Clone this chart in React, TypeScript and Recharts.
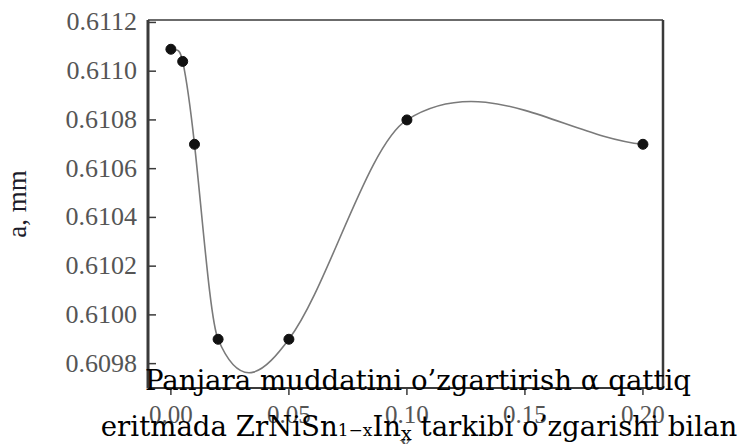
import { Line, LineChart, XAxis, YAxis } from "recharts"

const xValues = [0, 0.005, 0.01, 0.02, 0.05, 0.1, 0.2]
const latticeA = [0.61109, 0.61104, 0.6107, 0.6099, 0.6099, 0.6108, 0.6107]
const xTicks = [0, 0.05, 0.1, 0.15, 0.2]
const yTicks = [0.6098, 0.61, 0.6102, 0.6104, 0.6106, 0.6108, 0.611, 0.6112]
const captionLine1 = "Panjara muddatini o’zgartirish α qattiq"

const data = xValues.map((x, i) => ({ x, a: latticeA[i] }))

const axisColor = "#3a3a3a"
const tickColor = "#555"
const tickFont = "'Liberation Serif', 'Times New Roman', serif"
const captionFont = "'DejaVu Serif', serif"

// cubic Hermite spline in x, finite-difference slopes with a little extra tension
const smoothX = (context: any) => {
  let pts: [number, number][] = []
  const k = 1.15
  return {
    areaStart() {},
    areaEnd() {},
    lineStart() {
      pts = []
    },
    point(x: number, y: number) {
      pts.push([+x, +y])
    },
    lineEnd() {
      const n = pts.length
      if (!n) return
      context.moveTo(pts[0][0], pts[0][1])
      if (n === 1) return
      const m = pts.map((p, i) => {
        if (i === 0) return (pts[1][1] - p[1]) / (pts[1][0] - p[0])
        if (i === n - 1) return (p[1] - pts[i - 1][1]) / (p[0] - pts[i - 1][0])
        return (k * (pts[i + 1][1] - pts[i - 1][1])) / (pts[i + 1][0] - pts[i - 1][0])
      })
      for (let i = 0; i < n - 1; i++) {
        const [x0, y0] = pts[i]
        const [x1, y1] = pts[i + 1]
        const h = (x1 - x0) / 3
        context.bezierCurveTo(x0 + h, y0 + m[i] * h, x1 - h, y1 - m[i + 1] * h, x1, y1)
      }
    },
  }
}

const YTick = (props: any) => {
  const { x, y, payload } = props
  return (
    <g>
      <line x1={x + 8} x2={x + 16} y1={y} y2={y} stroke={axisColor} strokeWidth={1.5} />
      <text x={x - 3} y={y} dy={8} textAnchor="end" fill={tickColor} fontSize={26} fontFamily={tickFont}>
        {payload.value.toFixed(4)}
      </text>
    </g>
  )
}

const XTick = (props: any) => {
  const { x, y, payload } = props
  return (
    <g>
      <line x1={x} x2={x} y1={y - 1} y2={y - 9} stroke={axisColor} strokeWidth={1.5} />
      <text x={x} y={y} dy={27} textAnchor="middle" fill={tickColor} fontSize={25} fontFamily={tickFont}>
        {payload.value.toFixed(2)}
      </text>
    </g>
  )
}

export default function App() {
  return (
    <div style={{ position: "absolute", left: 0, top: 0, width: 739, height: 444, background: "#fff", overflow: "hidden" }}>
      <LineChart width={739} height={444} data={data} margin={{ top: 19, right: 75, bottom: 0, left: 48 }}>
        <XAxis
          dataKey="x"
          type="number"
          domain={[-0.0097, 0.2085]}
          ticks={xTicks}
          tick={<XTick />}
          tickLine={false}
          height={56}
          stroke={axisColor}
          strokeWidth={2}
          label={{ value: "x", position: "insideBottom", offset: -8, fill: tickColor, fontSize: 25, fontFamily: tickFont }}
        />
        <XAxis xAxisId="top" orientation="top" dataKey="x" type="number" domain={[-0.0097, 0.2085]} tick={false} tickLine={false} height={1} stroke={axisColor} strokeWidth={1.5} />
        <YAxis
          type="number"
          domain={[0.6097, 0.61121]}
          ticks={yTicks}
          tick={<YTick />}
          tickLine={false}
          width={100}
          stroke={axisColor}
          strokeWidth={3}
          allowDataOverflow
          label={{ value: "a, mm", angle: -90, position: "insideLeft", offset: -32, fill: "#1c1c2a", fontSize: 27, fontFamily: tickFont, style: { textAnchor: "middle" } }}
        />
        <YAxis yAxisId="right" orientation="right" type="number" domain={[0.6097, 0.61121]} tick={false} tickLine={false} width={1} stroke={axisColor} strokeWidth={2.5} />
        <Line
          type={smoothX as any}
          dataKey="a"
          stroke="#7a7a7a"
          strokeWidth={1.6}
          dot={{ r: 5, fill: "#111", stroke: "#111", strokeWidth: 1 }}
          isAnimationActive={false}
        />
      </LineChart>
      <svg width={739} height={444} style={{ position: "absolute", left: 0, top: 0, pointerEvents: "none" }}>
        <text x={418} y={390} textAnchor="middle" fontSize={27.6} fontFamily={captionFont} fill="#000">
          {captionLine1}
        </text>
        <text x={419} y={436} textAnchor="middle" fontSize={27.6} fontFamily={captionFont} fill="#000">
          eritmada ZrNiSn
          <tspan fontSize={17}>1−x</tspan>
          <tspan>In</tspan>
          <tspan fontSize={19} dy={4}>x</tspan>
          <tspan dy={-4}> tarkibi o’zgarishi bilan</tspan>
        </text>
      </svg>
    </div>
  )
}
